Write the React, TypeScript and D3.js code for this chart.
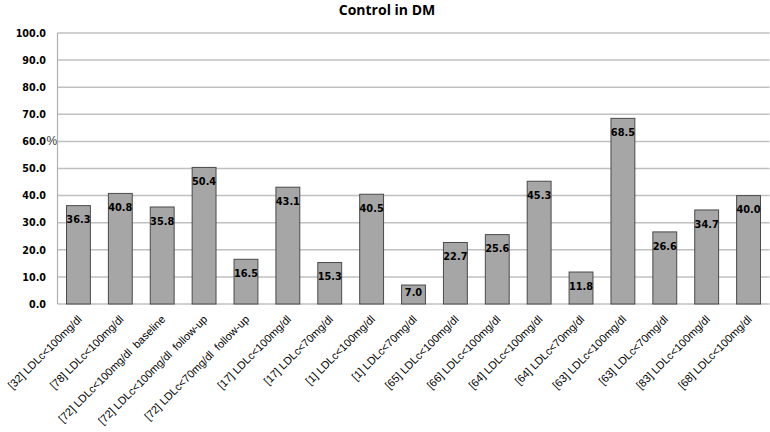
import React from "react";
import * as d3 from "d3";

const categories = [
  "[32] LDLc<100mg/dl",
  "[78] LDLc<100mg/dl",
  "[72] LDLc<100mg/dl  baseline",
  "[72] LDLc<100mg/dl  follow-up",
  "[72] LDLc<70mg/dl  follow-up",
  "[17] LDLc<100mg/dl",
  "[17] LDLc<70mg/dl",
  "[1] LDLc<100mg/dl",
  "[1] LDLc<70mg/dl",
  "[65] LDLc<100mg/dl",
  "[66] LDLc<100mg/dl",
  "[64] LDLc<100mg/dl",
  "[64] LDLc<70mg/dl",
  "[63] LDLc<100mg/dl",
  "[63] LDLc<70mg/dl",
  "[83] LDLc<100mg/dl",
  "[68] LDLc<100mg/dl",
];
const values = [36.3, 40.8, 35.8, 50.4, 16.5, 43.1, 15.3, 40.5, 7.0, 22.7, 25.6, 45.3, 11.8, 68.5, 26.6, 34.7, 40.0];
const yTicks = [0, 10, 20, 30, 40, 50, 60, 70, 80, 90, 100];
const title = "Control in DM";

const W = 770;
const H = 432;
const M = { left: 57.5, right: 0.5, top: 33, bottom: 128 };

export default function App() {
  const x = d3
    .scaleBand<string>()
    .domain(categories)
    .range([M.left, W - M.right])
    .paddingInner(0.43)
    .paddingOuter(0.215);
  const y = d3.scaleLinear().domain([0, 100]).range([H - M.bottom, M.top]);
  const y0 = y(0);

  return (
    <svg
      width={W}
      height={H}
      style={{ position: "absolute", left: 0, top: 0, background: "#fff" }}
    >
      <text
        x={387}
        y={14.5}
        textAnchor="middle"
        fontFamily="'Open Sans', 'Liberation Sans', sans-serif"
        fontWeight="bold"
        fontSize={14}
        fill="#000"
      >
        {title}
      </text>
      {yTicks.map((t) => (
        <g key={t}>
          <line x1={M.left} x2={W - M.right} y1={y(t)} y2={y(t)} stroke="#c0c0c0" strokeWidth={1.5} />
          <text
            x={46}
            y={y(t) + 3.7}
            textAnchor="end"
            fontFamily="'DejaVu Sans', sans-serif"
            fontWeight="bold"
            fontSize={9.6}
            fill="#000"
          >
            {d3.format(".1f")(t)}
          </text>
        </g>
      ))}
      <text x={46.5} y={145} fontFamily="'Liberation Sans', sans-serif" fontSize={12} fill="#333">
        %
      </text>
      <line x1={M.left} x2={M.left} y1={M.top} y2={y0} stroke="#b0b0b0" strokeWidth={1.2} />
      {categories.map((c, i) => {
        const bx = x(c)!;
        const bw = x.bandwidth();
        const top = y(values[i]);
        const ly = Math.min(top + 14, y0 - 12);
        return (
          <g key={c}>
            <rect x={bx} y={top} width={bw} height={y0 - top} fill="#a6a6a6" stroke="#4a4a4a" strokeWidth={1} />
            <text
              x={bx + bw / 2}
              y={ly + 3.6}
              textAnchor="middle"
              fontFamily="'DejaVu Sans', sans-serif"
              fontWeight="bold"
              fontSize={9.8}
              fill="#000"
            >
              {d3.format(".1f")(values[i])}
            </text>
          </g>
        );
      })}
      {categories.map((c) => {
        const cx = x(c)! + x.bandwidth() / 2 + 4;
        const cy = y0 + 16;
        return (
          <text
            key={"l" + c}
            transform={`translate(${cx},${cy}) rotate(-45)`}
            textAnchor="end"
            fontFamily="'Liberation Sans', sans-serif"
            fontSize={11}
            fill="#000"
            style={{ whiteSpace: "pre" }}
          >
            {c}
          </text>
        );
      })}
    </svg>
  );
}
